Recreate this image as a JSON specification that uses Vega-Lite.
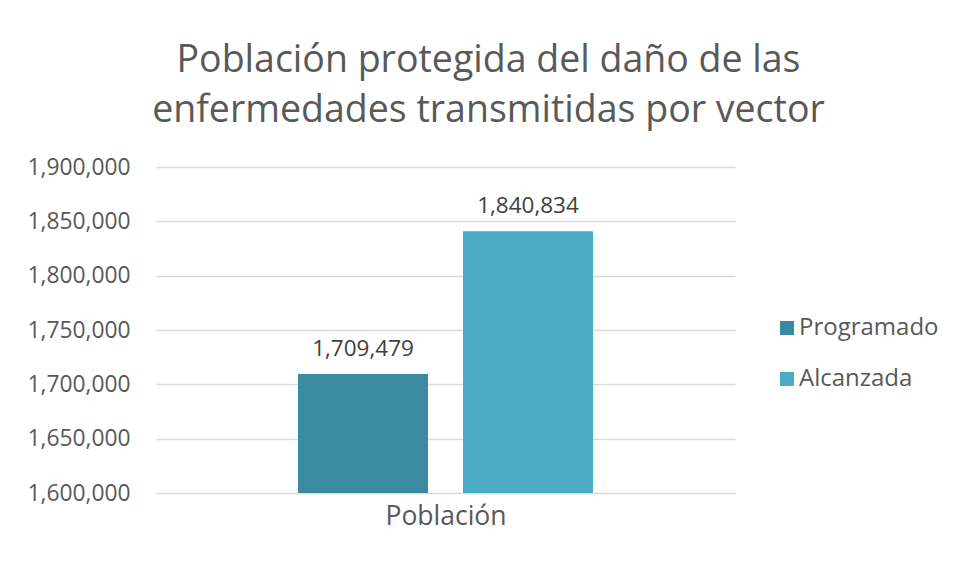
{
  "$schema": "https://vega.github.io/schema/vega-lite/v6.json",
  "width": 579,
  "height": 326,
  "autosize": {"type": "none"},
  "padding": {"left": 156, "top": 167, "right": 219, "bottom": 69},
  "background": "white",
  "title": {
    "text": ["Población protegida del daño de las", "enfermedades transmitidas por vector"],
    "fontSize": 37.5,
    "font": "Open Sans",
    "fontWeight": "normal",
    "color": "#595959",
    "lineHeight": 50,
    "anchor": "middle",
    "dx": 43,
    "offset": 27
  },
  "data": {
    "values": [
      {"categoria": "Población", "serie": "Programado", "valor": 1709479},
      {"categoria": "Población", "serie": "Alcanzada", "valor": 1840834}
    ]
  },
  "encoding": {
    "x": {
      "field": "serie",
      "type": "nominal",
      "sort": ["Programado", "Alcanzada"],
      "scale": {"paddingInner": 0.212, "paddingOuter": 0.861},
      "axis": {
        "labels": false,
        "ticks": false,
        "domain": false,
        "title": "Población",
        "titleFont": "Open Sans",
        "titleFontSize": 26.5,
        "titleFontWeight": "normal",
        "titleColor": "#595959",
        "titlePadding": 10
      }
    },
    "y": {
      "field": "valor",
      "type": "quantitative",
      "scale": {"domain": [1600000, 1900000], "nice": false, "zero": false},
      "axis": {
        "values": [1600000, 1650000, 1700000, 1750000, 1800000, 1850000, 1900000],
        "format": ",.0f",
        "title": null,
        "ticks": false,
        "domain": false,
        "labelPadding": 26,
        "labelFont": "Open Sans",
        "labelFontSize": 22.8,
        "labelColor": "#595959",
        "gridColor": "#d9d9d9",
        "gridWidth": 1.5
      }
    }
  },
  "layer": [
    {
      "mark": {"type": "bar", "clip": true},
      "encoding": {
        "color": {
          "field": "serie",
          "type": "nominal",
          "sort": ["Programado", "Alcanzada"],
          "scale": {"domain": ["Programado", "Alcanzada"], "range": ["#3A8AA2", "#4AABC5"]},
          "legend": {
            "title": null,
            "orient": "none",
            "legendX": 619,
            "legendY": 149,
            "symbolType": "square",
            "symbolSize": 196,
            "symbolStrokeWidth": 0,
            "labelFont": "Open Sans",
            "labelFontSize": 24,
            "labelColor": "#595959",
            "rowPadding": 27,
            "labelOffset": 0
          }
        }
      }
    },
    {
      "mark": {"type": "text", "baseline": "bottom", "dy": -13, "font": "Open Sans", "fontSize": 22.5, "color": "#404040"},
      "encoding": {
        "text": {"field": "valor", "type": "quantitative", "format": ",.0f"}
      }
    }
  ],
  "config": {
    "view": {"stroke": null}
  }
}
